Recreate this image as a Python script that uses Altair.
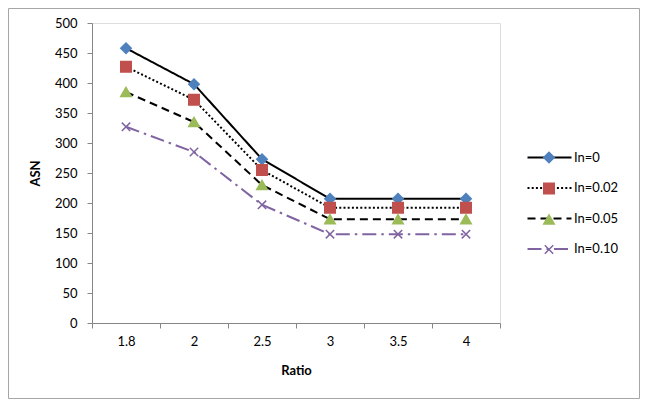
import altair as alt
import pandas as pd

ratios = ["1.8", "2", "2.5", "3", "3.5", "4"]
series_names = ["In=0", "In=0.02", "In=0.05", "In=0.10"]
asn_in0 = [458, 398, 273, 207, 207, 207]
asn_in002 = [427, 372, 255, 192, 192, 192]
asn_in005 = [385, 335, 230, 173, 173, 173]
asn_in010 = [327, 285, 197, 148, 148, 148]

line_colors = ["#000000", "#000000", "#000000", "#8064A2"]
marker_colors = ["#4F81BD", "#C0504D", "#9BBB59", "#8064A2"]
dashes = [[1, 0], [2, 2.2], [8, 5], [14, 5, 2.5, 5]]
shapes = ["diamond", "square", "triangle-up", "M-0.8,-0.8L0.8,0.8M0.8,-0.8L-0.8,0.8"]

rows = []
for name, vals in zip(series_names, [asn_in0, asn_in002, asn_in005, asn_in010]):
    for r, v in zip(ratios, vals):
        rows.append({"Ratio": r, "ASN": v, "series": name, "marker": name})
df = pd.DataFrame(rows)

FONT = "Lato"
AX = "#868686"

x_enc = alt.X(
    "Ratio:N",
    sort=ratios,
    scale=alt.Scale(type="band", paddingInner=0, paddingOuter=0),
    axis=alt.Axis(
        title="Ratio", tickBand="extent", labelAngle=0, labelPadding=7,
        titleX=204, titleY=47, titleBaseline="middle",
        domainColor=AX, tickColor=AX, tickSize=5, labelColor="#000000",
        labelFontSize=13, titleFontSize=13, titleFontWeight="bold",
        labelFont=FONT, titleFont=FONT, grid=False,
    ),
)
y_enc = alt.Y(
    "ASN:Q",
    scale=alt.Scale(domain=[0, 500], nice=False),
    axis=alt.Axis(
        title="ASN", values=list(range(0, 501, 50)), labelPadding=10,
        titleX=-57, titleY=150, titleAngle=-90, titleAlign="center",
        titleBaseline="middle",
        domainColor=AX, tickColor=AX, tickSize=5, labelColor="#000000",
        labelFontSize=13, titleFontSize=13, titleFontWeight="bold",
        labelFont=FONT, titleFont=FONT, grid=False,
    ),
)

line_legend = alt.Legend(
    title=None, orient="none", legendX=451, legendY=128, padding=0,
    symbolType="M-4.4,0L4.4,0", symbolSize=100, symbolStrokeWidth=2,
    labelOffset=18, labelFontSize=13, labelFont=FONT, labelColor="#000000",
    rowPadding=16.5, symbolFillColor="transparent",
)
point_legend = alt.Legend(
    title=None, orient="none", legendX=450.5, legendY=128, padding=0,
    symbolSize=110, symbolStrokeWidth=1.5,
    labelOffset=0, labelExpr="''", labelFontSize=13,
    rowPadding=14, symbolOpacity=1,
)

lines = alt.Chart(df).mark_line(strokeWidth=2).encode(
    x=x_enc,
    y=y_enc,
    color=alt.Color("series:N", scale=alt.Scale(domain=series_names, range=line_colors), legend=line_legend),
    strokeDash=alt.StrokeDash("series:N", scale=alt.Scale(domain=series_names, range=dashes), legend=line_legend),
    detail="series:N",
)

points = alt.Chart(df).mark_point(filled=True, opacity=1, size=110, strokeWidth=1.5).encode(
    x=x_enc,
    y=y_enc,
    fill=alt.Fill("marker:N", scale=alt.Scale(range=marker_colors), legend=point_legend),
    stroke=alt.Stroke("marker:N", scale=alt.Scale(range=marker_colors), legend=point_legend),
    shape=alt.Shape("marker:N", scale=alt.Scale(range=shapes), legend=point_legend),
)

border = alt.Chart(pd.DataFrame({"a": [0]})).mark_rect(
    fill=None, stroke="#A6A6A6", strokeWidth=1
).encode(
    x=alt.value(-83.5), x2=alt.value(547.5), y=alt.value(-14.5), y2=alt.value(375.5)
)

chart = alt.layer(border, lines, points).properties(
    width=408, height=300,
    autosize=alt.AutoSizeParams(type="none"),
    padding={"left": 84, "top": 15, "right": 140, "bottom": 76},
).configure_view(stroke=None).configure(background="white")

chart.save("out.html", embed_options={"renderer": "svg", "actions": False})
